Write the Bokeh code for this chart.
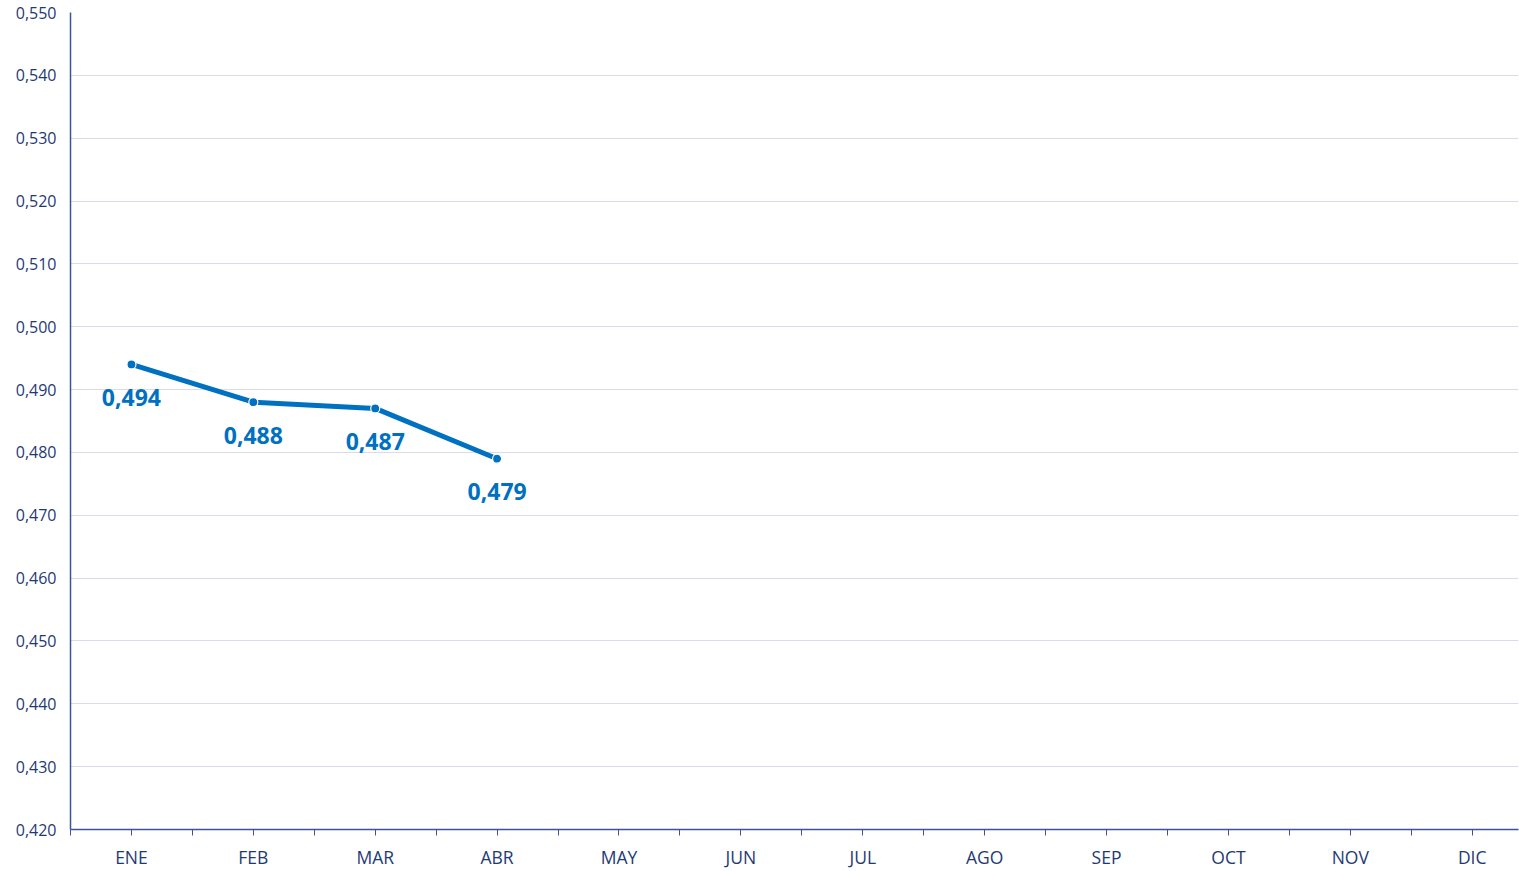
from bokeh.plotting import figure
from bokeh.models import ColumnDataSource, FixedTicker, Range1d, LabelSet
from bokeh.core.properties import value
from bokeh.embed import file_html
from bokeh.resources import INLINE

months = ["ENE", "FEB", "MAR", "ABR", "MAY", "JUN", "JUL", "AGO", "SEP", "OCT", "NOV", "DIC"]
values = [0.494, 0.488, 0.487, 0.479]
value_labels = ["0,494", "0,488", "0,487", "0,479"]
y_ticks = [0.42, 0.43, 0.44, 0.45, 0.46, 0.47, 0.48, 0.49, 0.50, 0.51, 0.52, 0.53, 0.54, 0.55]
y_tick_labels = ["0,420", "0,430", "0,440", "0,450", "0,460", "0,470", "0,480", "0,490",
                 "0,500", "0,510", "0,520", "0,530", "0,540", "0,550"]

BLUE = "#0070C0"
NAVY = "#1F3A73"
AXIS = "#3A5597"
FONT = "Open Sans"

p = figure(width=1519, height=871, output_backend="svg", toolbar_location=None,
           x_range=Range1d(0, 11.88), y_range=Range1d(0.42, 0.55),
           min_border_left=70, min_border_right=1, min_border_top=12, min_border_bottom=41)
p.outline_line_color = None
p.background_fill_color = "white"

xs = [i + 0.5 for i in range(len(values))]
src = ColumnDataSource(dict(x=xs, y=values, label=value_labels))

p.line("x", "y", source=src, line_color=BLUE, line_width=5)
p.scatter("x", "y", source=src, size=9, fill_color=BLUE, line_color="white", line_width=1.2)

labels = LabelSet(x="x", y="y", text="label", source=src, text_align="center",
                  text_baseline="middle", y_offset=-33, text_color=BLUE,
                  text_font=value(FONT), text_font_size="23px", text_font_style="bold")
p.add_layout(labels)

# x axis
x_ticks = [i * 0.5 for i in range(24)]
p.xaxis.ticker = FixedTicker(ticks=x_ticks)
overrides = {}
for i, t in enumerate(x_ticks):
    if i % 2 == 1:
        overrides[t] = months[i // 2]
    else:
        overrides[t] = ""
p.xaxis.major_label_overrides = overrides
p.xaxis.axis_line_color = AXIS
p.xaxis.axis_line_width = 1.5
p.xaxis.major_tick_line_color = AXIS
p.xaxis.major_tick_out = 6
p.xaxis.major_tick_in = 0
p.xaxis.minor_tick_line_color = None
p.xaxis.major_label_text_color = NAVY
p.xaxis.major_label_text_font = FONT
p.xaxis.major_label_text_font_size = "17.5px"
p.xaxis.major_label_standoff = 9
p.xgrid.grid_line_color = None

# y axis
p.yaxis.ticker = FixedTicker(ticks=y_ticks)
p.yaxis.major_label_overrides = {t: l for t, l in zip(y_ticks, y_tick_labels)}
p.yaxis.axis_line_color = AXIS
p.yaxis.axis_line_width = 1.5
p.yaxis.major_tick_line_color = None
p.yaxis.minor_tick_line_color = None
p.yaxis.major_label_text_color = NAVY
p.yaxis.major_label_text_font = FONT
p.yaxis.major_label_text_font_size = "16px"
p.yaxis.major_label_standoff = 8
p.ygrid.ticker = FixedTicker(ticks=y_ticks)
p.ygrid.grid_line_color = "#D9DCE8"
p.ygrid.grid_line_width = 1

open("out.html", "w").write(file_html(p, INLINE))
